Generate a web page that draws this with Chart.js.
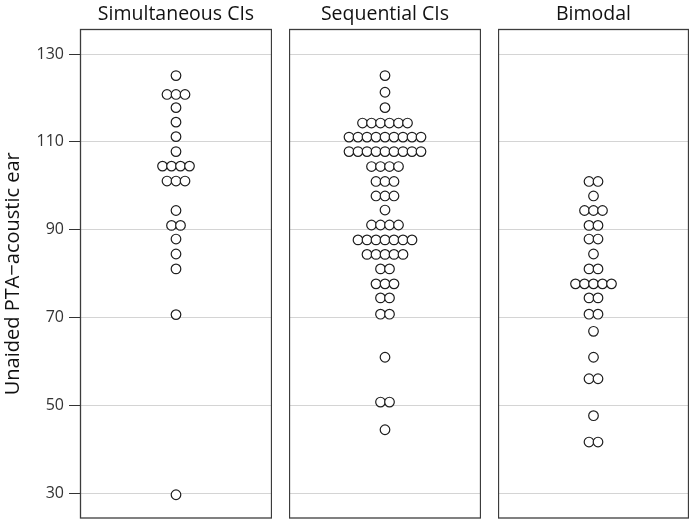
<!DOCTYPE html>
<html>
<head>
<meta charset="utf-8">
<script src="https://cdn.jsdelivr.net/npm/chart.js@4/dist/chart.umd.min.js"></script>
<style>
  html, body { margin: 0; padding: 0; background: #ffffff; }
  #wrap { position: relative; width: 693px; height: 522px; overflow: hidden; background: #fff; }
  canvas { position: absolute; top: 0; }
</style>
</head>
<body>
<div id="wrap">
  <canvas id="c1" width="272" height="522" style="left:0px"></canvas>
  <canvas id="c2" width="192" height="522" style="left:289px"></canvas>
  <canvas id="c3" width="191" height="522" style="left:498px"></canvas>
</div>
<script>
// ---- data ----
const panelTitles = ["Simultaneous CIs", "Sequential CIs", "Bimodal"];
const yTitle = "Unaided PTA\u2212acoustic ear";
const yTicks = [30, 50, 70, 90, 110, 130];

const simultaneousValues = [
  125.1,
  120.8, 120.8, 120.8,
  117.8, 114.5, 111.2, 107.8,
  104.5, 104.5, 104.5, 104.5,
  101.1, 101.1, 101.1,
  94.4,
  91.0, 91.0,
  87.9, 84.5, 81.1, 70.7, 29.7
];
const sequentialValues = [
  125.1, 121.3, 117.8,
  114.3, 114.3, 114.3, 114.3, 114.3, 114.3,
  111.1, 111.1, 111.1, 111.1, 111.1, 111.1, 111.1, 111.1, 111.1,
  107.8, 107.8, 107.8, 107.8, 107.8, 107.8, 107.8, 107.8, 107.8,
  104.4, 104.4, 104.4, 104.4,
  101.0, 101.0, 101.0,
  97.7, 97.7, 97.7,
  94.5,
  91.1, 91.1, 91.1, 91.1,
  87.7, 87.7, 87.7, 87.7, 87.7, 87.7, 87.7,
  84.4, 84.4, 84.4, 84.4, 84.4,
  81.1, 81.1,
  77.7, 77.7, 77.7,
  74.5, 74.5,
  70.8, 70.8,
  61.0,
  50.8, 50.8,
  44.5
];
const bimodalValues = [
  101.0, 101.0,
  97.7,
  94.4, 94.4, 94.4,
  91.0, 91.0,
  87.9, 87.9,
  84.5,
  81.1, 81.1,
  77.7, 77.7, 77.7, 77.7, 77.7,
  74.5, 74.5,
  70.8, 70.8,
  66.9, 61.0,
  56.1, 56.1,
  47.7,
  41.7, 41.7
];
const panelValues = [simultaneousValues, sequentialValues, bimodalValues];

// ---- layout / style ----
const Y_MIN = 24.3, Y_MAX = 135.7;
const DOT_STEP_PX = 9;
const FONT = "'Open Sans', 'Noto Sans', sans-serif";

// Dot-plot rows: identical values side by side, centred on 0 (x in dot-step units)
function dotRows(values) {
  const counts = new Map();
  values.forEach(v => counts.set(v, (counts.get(v) || 0) + 1));
  const pts = [];
  counts.forEach((n, v) => {
    for (let i = 0; i < n; i++) pts.push({ x: i - (n - 1) / 2, y: v });
  });
  return pts;
}

const frame = {
  id: 'frame',
  afterDatasetsDraw(chart) {
    const { ctx, chartArea: a } = chart;
    ctx.save();
    ctx.strokeStyle = '#3c3c3c';
    ctx.lineWidth = 1.3;
    ctx.strokeRect(a.left + 0.5, a.top + 0.5, a.right - a.left - 1, a.bottom - a.top - 1);
    ctx.restore();
  }
};

function makeChart(id, idx, withAxis) {
  const canvas = document.getElementById(id);
  const widthPx = canvas.width - (withAxis ? 80 : 0);
  const half = widthPx / DOT_STEP_PX / 2;
  return new Chart(canvas, {
    type: 'scatter',
    data: {
      datasets: [{
        data: dotRows(panelValues[idx]),
        pointStyle: 'circle',
        pointRadius: 4.8,
        pointHoverRadius: 4.8,
        backgroundColor: '#ffffff',
        borderColor: '#1e1e1e',
        borderWidth: 1.2
      }]
    },
    options: {
      responsive: false,
      animation: false,
      devicePixelRatio: 1,
      layout: { autoPadding: false, padding: { left: 0, right: 0, top: 0, bottom: 3.5 } },
      plugins: {
        legend: { display: false },
        tooltip: { enabled: false },
        title: {
          display: true,
          text: panelTitles[idx],
          fullSize: false,
          color: '#111',
          font: { family: FONT, size: 19.5, weight: 'normal', lineHeight: 1.2 },
          padding: { top: 2.5, bottom: 3.1 }
        }
      },
      scales: {
        x: { type: 'linear', display: false, min: -half, max: half },
        y: {
          type: 'linear',
          min: Y_MIN, max: Y_MAX,
          afterBuildTicks: s => { s.ticks = yTicks.map(v => ({ value: v })); },
          afterFit: withAxis ? (s => { s.width = 80; s.paddingTop = 0; s.paddingBottom = 0; }) : undefined,
          border: { display: false },
          grid: {
            color: '#d4d4d4',
            lineWidth: 1,
            drawTicks: withAxis,
            tickLength: 11,
            tickColor: '#333'
          },
          ticks: {
            display: withAxis,
            color: '#333',
            padding: 5,
            font: { family: FONT, size: 16 }
          },
          title: {
            display: withAxis,
            text: yTitle,
            color: '#111',
            font: { family: FONT, size: 20 },
            padding: { top: 1, bottom: 0 }
          }
        }
      }
    },
    plugins: [frame]
  });
}

makeChart('c1', 0, true);
makeChart('c2', 1, false);
makeChart('c3', 2, false);
</script>
</body>
</html>
